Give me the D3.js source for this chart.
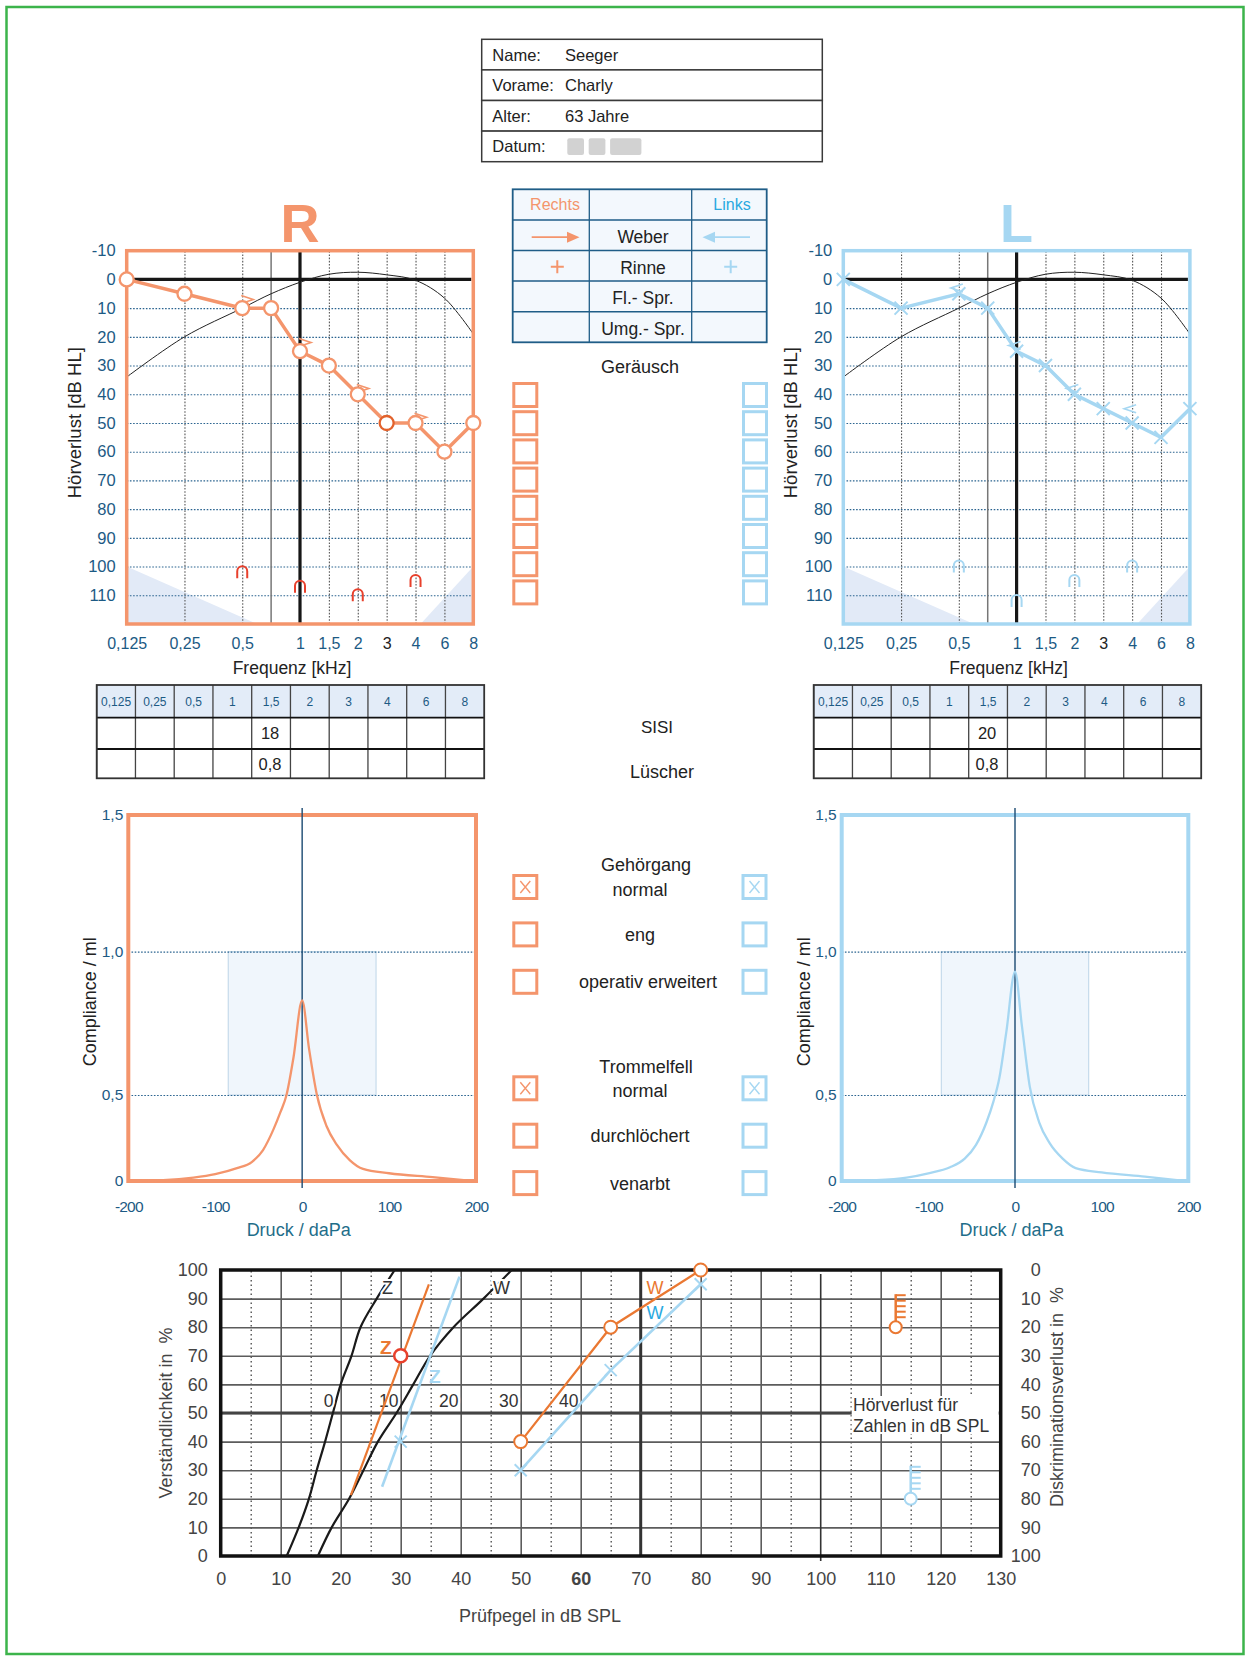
<!DOCTYPE html>
<html>
<head>
<meta charset="utf-8">
<script src="https://cdn.jsdelivr.net/npm/d3@7"></script>
<style>
  body { margin: 0; background: #fff; }
  svg { display: block; }
</style>
</head>
<body>
<svg id="chart" width="1247" height="1657"></svg>
<script>
const FONT = '"Liberation Sans", Arial, sans-serif';
const ORANGE = '#f4956c', ORANGE_DARK = '#e2622c', BLUE_L = '#a6d7f2', CYAN = '#2aa9e0';
const NAVY = '#1c5a84', RED = '#e8402c', SP_OR = '#ea7832', INK = '#222';

// patient header
const infoLabels = ['Name:', 'Vorame:', 'Alter:', 'Datum:'];
const infoValues = ['Seeger', 'Charly', '63 Jahre', ''];
const datumBlocks = [16.7, 16.7, 31.3];

// tuning fork / speech rows
const testRows = ['', 'Weber', 'Rinne', 'Fl.- Spr.', 'Umg.- Spr.'];

// audiogram
const freqGrid = [0.125, 0.177, 0.25, 0.354, 0.5, 0.75, 1, 1.5, 2, 3, 4, 6, 8];
const freqTicks = [0.125, 0.25, 0.5, 1, 1.5, 2, 3, 4, 6, 8];
const freqTickLabels = ['0,125', '0,25', '0,5', '1', '1,5', '2', '3', '4', '6', '8'];
const airFreqs = [0.125, 0.25, 0.5, 0.75, 1, 1.5, 2, 3, 4, 6, 8];
const rightAir = [0, 5, 10, 10, 25, 30, 40, 50, 50, 60, 50];
const leftAir = [0, 10, 5, 10, 25, 30, 40, 45, 50, 55, 45];
const normCurve = [34, 20, 10, 5, 1, -1.8, -2.5, -1.6, 0.3, 6.5, 19];
const boneFreqs = [0.5, 1, 2, 4];
const rightBone = [7, 22, 38, 48];
const leftBone = [3, 23, 38, 45];
const rightUcl = [102, 107, 110, 105];
const leftUcl = [100, 112, 105, 100];
const shadeLow = [[0.125, 100], [0.125, 120], [0.63, 120]];
const shadeHigh = [[4.35, 120], [8, 120], [8, 100]];
const dbTicks = d3.range(-10, 120, 10);

// SISI / Lüscher
const sisiRight = ['', '', '', '', '18', '', '', '', '', ''];
const luescherRight = ['', '', '', '', '0,8', '', '', '', '', ''];
const sisiLeft = ['', '', '', '', '20', '', '', '', '', ''];
const luescherLeft = ['', '', '', '', '0,8', '', '', '', '', ''];

// noise checkboxes
const noiseRight = [0, 0, 0, 0, 0, 0, 0, 0];
const noiseLeft = [0, 0, 0, 0, 0, 0, 0, 0];

// ear canal / ear drum
const canalOptions = ['normal', 'eng', 'operativ erweitert'];
const canalRight = [1, 0, 0], canalLeft = [1, 0, 0];
const drumOptions = ['normal', 'durchlöchert', 'venarbt'];
const drumRight = [1, 0, 0], drumLeft = [1, 0, 0];

// tympanogram
const tympPressure = [-200, -160, -125, -100, -75, -58, -45, -33, -25, -18, -10, 0, 8, 17, 28, 40, 55, 70, 100, 150, 195];
const tympRight = [0, 0.005, 0.02, 0.04, 0.075, 0.11, 0.18, 0.3, 0.4, 0.5, 0.63, 0.83, 0.66, 0.5, 0.32, 0.21, 0.12, 0.07, 0.045, 0.022, 0];
const tympLeft = [0, 0.005, 0.02, 0.045, 0.08, 0.13, 0.21, 0.34, 0.46, 0.56, 0.72, 0.93, 0.74, 0.53, 0.34, 0.22, 0.13, 0.075, 0.05, 0.025, 0];
const tympNormPressure = [-85, 85];
const tympNormCompliance = [0.5, 1.0];

// speech audiogram
const scoreSteps = [0, 10, 20, 30, 40, 50, 60, 70, 80, 90, 100];
const zNormLevel = [11, 13, 14.7, 16, 17.4, 18.7, 20, 21.8, 23.3, 26, 29];
const wNormLevel = [16.2, 18.5, 21.4, 23.8, 26.2, 29.3, 32.1, 34.9, 38.8, 43.8, 48.5];
const rightZLevel = [21.7, 34.7], rightZScore = [21.3, 95];
const leftZLevel = [26.9, 39.8], leftZScore = [24.2, 97.7];
const rightZPoint = [30, 70], leftZPoint = [30, 40];
const rightWLevel = [50, 65, 80], rightWScore = [40, 80, 100];
const leftWLevel = [50, 65, 80], leftWScore = [30, 65, 95];
const rightDiscr = [112.5, 20], leftDiscr = [115, 80];   // level, discrimination loss %
const numberLoss = [0, 10, 20, 30, 40];
const numberLossZero = 18;

const plain = d => String(d).replace('.', ',');
const svg = d3.select('#chart').attr('font-family', FONT);

// page frame
svg.append('rect').attr('x', 6.5).attr('y', 7).attr('width', 1237).attr('height', 1647)
  .attr('fill', '#fff').attr('stroke', '#3cb44b').attr('stroke-width', 2.5);

// ---------- patient header ----------
const infoY = d3.scaleBand().domain(d3.range(infoLabels.length)).range([39.3, 161.7]);
const info = svg.append('g');
info.selectAll('rect').data(infoLabels).join('rect')
  .attr('x', 481.7).attr('y', (d, i) => infoY(i)).attr('width', 340.6).attr('height', infoY.bandwidth())
  .attr('fill', '#fff').attr('stroke', '#3a3a3a').attr('stroke-width', 1.5);
info.selectAll('text.lab').data(infoLabels).join('text').attr('class', 'lab')
  .attr('x', 492.3).attr('y', (d, i) => infoY(i) + infoY.bandwidth() / 2 + 6)
  .attr('font-size', 16.5).attr('fill', INK).text(d => d);
info.selectAll('text.val').data(infoValues).join('text').attr('class', 'val')
  .attr('x', 565).attr('y', (d, i) => infoY(i) + infoY.bandwidth() / 2 + 6)
  .attr('font-size', 16.5).attr('fill', INK).text(d => d);
let bx = 567.3;
datumBlocks.forEach(w => {
  info.append('rect').attr('x', bx).attr('y', 138.3).attr('width', w).attr('height', 16.7)
    .attr('rx', 2).attr('fill', '#d2d2d2');
  bx += w + 4.7;
});

// ---------- Weber / Rinne table ----------
const tCols = [512.7, 589.3, 691.7, 766.7];
const tY = d3.scaleBand().domain(d3.range(testRows.length)).range([189.3, 342.3]);
const tt = svg.append('g');
tt.append('rect').attr('x', tCols[0]).attr('y', 189.3).attr('width', tCols[3] - tCols[0]).attr('height', 153)
  .attr('fill', '#f3f8fd').attr('stroke', '#1f5d87').attr('stroke-width', 1.8);
tCols.slice(1, 3).forEach(c => tt.append('line').attr('x1', c).attr('x2', c).attr('y1', 189.3).attr('y2', 342.3)
  .attr('stroke', '#1f5d87').attr('stroke-width', 1.3));
testRows.slice(1).forEach((r, i) => tt.append('line').attr('x1', tCols[0]).attr('x2', tCols[3])
  .attr('y1', tY(i + 1)).attr('y2', tY(i + 1)).attr('stroke', '#1f5d87').attr('stroke-width', 1.5));
tt.selectAll('text.row').data(testRows).join('text').attr('class', 'row')
  .attr('x', 643).attr('y', (d, i) => tY(i) + tY.bandwidth() / 2 + 8)
  .attr('text-anchor', 'middle').attr('font-size', 17.5).attr('fill', INK).text(d => d);
tt.append('text').attr('x', 555).attr('y', tY(0) + 20.5).attr('text-anchor', 'middle')
  .attr('font-size', 16).attr('fill', ORANGE).text('Rechts');
tt.append('text').attr('x', 732).attr('y', tY(0) + 20.5).attr('text-anchor', 'middle')
  .attr('font-size', 16).attr('fill', CYAN).text('Links');
// Weber arrows
const wy = tY(1) + tY.bandwidth() / 2 + 2;
tt.append('line').attr('x1', 531.7).attr('x2', 568).attr('y1', wy).attr('y2', wy).attr('stroke', ORANGE).attr('stroke-width', 1.8);
tt.append('path').attr('d', `M567,${wy - 5.5}L579.5,${wy}L567,${wy + 5.5}Z`).attr('fill', ORANGE);
tt.append('line').attr('x1', 714).attr('x2', 750).attr('y1', wy).attr('y2', wy).attr('stroke', BLUE_L).attr('stroke-width', 1.8);
tt.append('path').attr('d', `M715,${wy - 5.5}L702.5,${wy}L715,${wy + 5.5}Z`).attr('fill', BLUE_L);
// Rinne plus
const ry = tY(2) + tY.bandwidth() / 2 + 1;
[[557.3, ORANGE], [730.7, BLUE_L]].forEach(([cx, c]) => {
  tt.append('path').attr('d', `M${cx - 6.5},${ry}H${cx + 6.5}M${cx},${ry - 6.5}V${ry + 6.5}`)
    .attr('stroke', c).attr('stroke-width', 2);
});

// ---------- checkbox helper ----------
function checkbox(cx, cy, col, checked) {
  svg.append('rect').attr('x', cx - 11.5).attr('y', cy - 11.5).attr('width', 23).attr('height', 23)
    .attr('fill', '#fff').attr('stroke', col).attr('stroke-width', 3);
  if (checked) {
    svg.append('path').attr('d', `M${cx - 5},${cy - 6}L${cx + 5},${cy + 6}M${cx + 5},${cy - 6}L${cx - 5},${cy + 6}`)
      .attr('stroke', col).attr('stroke-width', 1.4);
  }
}

// Geräusch
svg.append('text').attr('x', 640).attr('y', 373).attr('text-anchor', 'middle')
  .attr('font-size', 18).attr('fill', INK).text('Geräusch');
const noiseY = d3.scaleLinear().domain([0, 7]).range([395, 592.4]);
noiseRight.forEach((v, i) => checkbox(525.3, noiseY(i), ORANGE, v));
noiseLeft.forEach((v, i) => checkbox(755, noiseY(i), BLUE_L, v));

// ---------- audiogram ----------
function audiogram(o) {
  const top = 250.7, bottom = 624, w = 346.6, left = o.left;
  const pt = d3.scalePoint().domain(freqGrid).range([left, left + w]);
  const x = d3.scaleLinear().domain(freqGrid).range(freqGrid.map(f => pt(f)));
  const y = d3.scaleLinear().domain([-10, 120]).range([top, bottom]);
  const g = svg.append('g');
  g.append('rect').attr('x', left).attr('y', top).attr('width', w).attr('height', bottom - top).attr('fill', '#fff');
  const poly = d3.line().x(d => x(d[0])).y(d => y(d[1]));
  [shadeLow, shadeHigh].forEach(s => g.append('path').attr('d', poly(s) + 'Z').attr('fill', '#e2eaf7'));

  g.append('g').attr('transform', `translate(${left},0)`)
    .call(d3.axisLeft(y).tickValues(d3.range(10, 120, 10)).tickSize(-w).tickFormat(''))
    .call(a => a.select('.domain').remove())
    .call(a => a.selectAll('line').attr('stroke', '#2b6490').attr('stroke-width', 1.1).attr('stroke-dasharray', '1.6,1.6'));
  g.append('g').attr('transform', `translate(0,${bottom})`)
    .call(d3.axisBottom(x).tickValues(freqTicks.filter(f => f > 0.125 && f < 8 && f !== 1)).tickSize(-(bottom - top)).tickFormat(''))
    .call(a => a.select('.domain').remove())
    .call(a => a.selectAll('line').attr('stroke', '#555').attr('stroke-width', 1.1).attr('stroke-dasharray', '1.6,1.6'));
  g.append('line').attr('x1', x(0.75)).attr('x2', x(0.75)).attr('y1', top).attr('y2', bottom)
    .attr('stroke', '#777').attr('stroke-width', 1.5);
  g.append('line').attr('x1', x(1)).attr('x2', x(1)).attr('y1', top).attr('y2', bottom)
    .attr('stroke', '#161616').attr('stroke-width', 3.2);
  g.append('line').attr('x1', left).attr('x2', left + w - 2).attr('y1', y(0)).attr('y2', y(0))
    .attr('stroke', '#161616').attr('stroke-width', 3.2);
  g.append('path')
    .attr('d', d3.line().curve(d3.curveCatmullRom.alpha(0.5)).x((d, i) => x(airFreqs[i])).y(d => y(d))(normCurve))
    .attr('fill', 'none').attr('stroke', '#222').attr('stroke-width', 1);
  g.append('rect').attr('x', left).attr('y', top).attr('width', w).attr('height', bottom - top)
    .attr('fill', 'none').attr('stroke', o.col).attr('stroke-width', 3.5);

  // axes text
  g.append('g').attr('transform', `translate(${left},0)`)
    .call(d3.axisLeft(y).tickValues(dbTicks).tickSize(0).tickPadding(11).tickFormat(plain))
    .call(a => { a.select('.domain').remove(); a.attr('font-family', FONT).attr('font-size', 16.5); a.selectAll('text').attr('fill', NAVY); });
  g.append('g').attr('transform', `translate(0,${bottom})`)
    .call(d3.axisBottom(x).tickValues(freqTicks).tickSize(0).tickPadding(14).tickFormat((d, i) => freqTickLabels[i]))
    .call(a => { a.select('.domain').remove(); a.attr('font-family', FONT).attr('font-size', 16); a.selectAll('text').attr('fill', d => d === 3 ? '#222' : NAVY); });
  g.append('text').attr('x', left + w / 2 - 8).attr('y', 674).attr('text-anchor', 'middle')
    .attr('font-size', 17.5).attr('fill', INK).text('Frequenz [kHz]');
  g.append('text').attr('transform', `translate(${left - 46},${top + 172}) rotate(-90)`).attr('text-anchor', 'middle')
    .attr('font-size', 18.5).attr('fill', INK).text('Hörverlust [dB HL]');
  g.append('text').attr('x', x(1)).attr('y', 241.7).attr('text-anchor', 'middle')
    .attr('font-size', 54).attr('font-weight', 'bold').attr('fill', o.col).text(o.title);

  // ULL
  g.selectAll('path.ucl').data(o.ucl).join('path').attr('class', 'ucl')
    .attr('transform', (d, i) => `translate(${x(boneFreqs[i])},${y(d)})`)
    .attr('d', 'M-5,6V-1A5,5 0 0 1 5,-1V6').attr('fill', 'none').attr('stroke', o.uclCol).attr('stroke-width', 2);
  // bone conduction
  g.selectAll('path.bone').data(o.bone).join('path').attr('class', 'bone')
    .attr('transform', (d, i) => `translate(${x(boneFreqs[i]) + o.boneDx},${y(d)})`)
    .attr('d', o.title === 'R' ? 'M-6,-4L6,0L-6,4' : 'M6,-4L-6,0L6,4')
    .attr('fill', 'none').attr('stroke', o.col).attr('stroke-width', 1.6);
  // air conduction
  g.append('path').attr('d', d3.line().x((d, i) => x(airFreqs[i])).y(d => y(d))(o.air))
    .attr('fill', 'none').attr('stroke', o.col).attr('stroke-width', 3.5);
  if (o.title === 'R') {
    g.selectAll('circle.air').data(o.air).join('circle').attr('class', 'air')
      .attr('cx', (d, i) => x(airFreqs[i])).attr('cy', d => y(d)).attr('r', 7)
      .attr('fill', '#fff').attr('stroke', (d, i) => airFreqs[i] === 3 ? ORANGE_DARK : o.col).attr('stroke-width', 2.3);
  } else {
    g.selectAll('path.air').data(o.air).join('path').attr('class', 'air')
      .attr('transform', (d, i) => `translate(${x(airFreqs[i])},${y(d)})`)
      .attr('d', 'M-6.5,-6.5L6.5,6.5M6.5,-6.5L-6.5,6.5').attr('stroke', o.col).attr('stroke-width', 2);
  }
}
audiogram({ left: 126.7, col: ORANGE, uclCol: RED, title: 'R', air: rightAir, bone: rightBone, ucl: rightUcl, boneDx: 5 });
audiogram({ left: 843.3, col: BLUE_L, uclCol: BLUE_L, title: 'L', air: leftAir, bone: leftBone, ucl: leftUcl, boneDx: -2 });

// ---------- SISI tables ----------
function sisiTable(left, row1, row2) {
  const x = d3.scaleBand().domain(d3.range(freqTickLabels.length)).range([left, left + 387.5]);
  const rows = [685, 717.7, 749, 778.3];
  const g = svg.append('g');
  g.append('rect').attr('x', left).attr('y', rows[0]).attr('width', 387.5).attr('height', rows[1] - rows[0]).attr('fill', '#e3ecf8');
  freqTickLabels.forEach((d, i) => g.append('line').attr('x1', x(i)).attr('x2', x(i)).attr('y1', rows[0]).attr('y2', rows[3])
    .attr('stroke', '#444').attr('stroke-width', 1.3));
  rows.slice(1, 3).forEach(r => g.append('line').attr('x1', left).attr('x2', left + 387.5).attr('y1', r).attr('y2', r)
    .attr('stroke', '#111').attr('stroke-width', 1.8));
  g.append('rect').attr('x', left).attr('y', rows[0]).attr('width', 387.5).attr('height', rows[3] - rows[0])
    .attr('fill', 'none').attr('stroke', '#333').attr('stroke-width', 1.8);
  g.selectAll('text.h').data(freqTickLabels).join('text').attr('class', 'h')
    .attr('x', (d, i) => x(i) + x.bandwidth() / 2).attr('y', 705.5).attr('text-anchor', 'middle')
    .attr('font-size', 12).attr('fill', NAVY).text(d => d);
  [row1, row2].forEach((r, k) => g.selectAll('text.v' + k).data(r).join('text').attr('class', 'v' + k)
    .attr('x', (d, i) => x(i) + x.bandwidth() / 2 - 1).attr('y', [739, 769.5][k]).attr('text-anchor', 'middle')
    .attr('font-size', 16.5).attr('fill', INK).text(d => d));
}
sisiTable(96.7, sisiRight, luescherRight);
sisiTable(813.7, sisiLeft, luescherLeft);
svg.append('text').attr('x', 657).attr('y', 733).attr('text-anchor', 'middle').attr('font-size', 17).attr('fill', INK).text('SISI');
svg.append('text').attr('x', 662).attr('y', 777.5).attr('text-anchor', 'middle').attr('font-size', 18).attr('fill', INK).text('Lüscher');

// ---------- tympanograms ----------
function tymp(left, w, col, values) {
  const x = d3.scaleLinear().domain([-200, 200]).range([left, left + w]);
  const y = d3.scaleLinear().domain([0, 0.5, 1, 1.5]).range([1181, 1095, 951.7, 815]);
  const g = svg.append('g');
  g.append('rect').attr('x', x(tympNormPressure[0])).attr('y', y(tympNormCompliance[1]))
    .attr('width', x(tympNormPressure[1]) - x(tympNormPressure[0]))
    .attr('height', y(tympNormCompliance[0]) - y(tympNormCompliance[1]))
    .attr('fill', '#f0f6fc').attr('stroke', '#c6dbeb').attr('stroke-width', 1.2);
  g.append('g').attr('transform', `translate(${left},0)`)
    .call(d3.axisLeft(y).tickValues(tympNormCompliance).tickSize(-w).tickFormat(''))
    .call(a => a.select('.domain').remove())
    .call(a => a.selectAll('line').attr('stroke', '#2b6490').attr('stroke-width', 1.2).attr('stroke-dasharray', '1.6,1.6'));
  g.append('rect').attr('x', left).attr('y', y(1.5)).attr('width', w).attr('height', y(0) - y(1.5))
    .attr('fill', 'none').attr('stroke', col).attr('stroke-width', 4);
  g.append('line').attr('x1', x(0)).attr('x2', x(0)).attr('y1', 808).attr('y2', 1188)
    .attr('stroke', '#1a4a72').attr('stroke-width', 1.4);
  g.append('path').attr('d', d3.line().curve(d3.curveMonotoneX).x((d, i) => x(tympPressure[i])).y(d => y(d))(values))
    .attr('fill', 'none').attr('stroke', col).attr('stroke-width', 2.3);
  g.append('g').attr('transform', `translate(${left - 5},0)`)
    .call(d3.axisLeft(y).tickValues([0, 0.5, 1, 1.5]).tickSize(0).tickPadding(0)
      .tickFormat(d => d === 0 ? '0' : d3.format('.1f')(d).replace('.', ',')))
    .call(a => { a.select('.domain').remove(); a.attr('font-family', FONT).attr('font-size', 15.5); a.selectAll('text').attr('fill', NAVY); });
  g.append('g').attr('transform', `translate(0,1181)`)
    .call(d3.axisBottom(x).tickValues([-200, -100, 0, 100, 200]).tickSize(0).tickPadding(20).tickFormat(plain))
    .call(a => { a.select('.domain').remove(); a.attr('font-family', FONT).attr('font-size', 15.5); a.selectAll('text').attr('fill', NAVY).attr('letter-spacing', -0.8); });
  g.append('text').attr('transform', `translate(${left - 32},1001.7) rotate(-90)`).attr('text-anchor', 'middle')
    .attr('font-size', 18).attr('fill', INK).text('Compliance / ml');
  g.append('text').attr('x', x(0) - 3.5).attr('y', 1236).attr('text-anchor', 'middle')
    .attr('font-size', 18).attr('fill', '#1f6e8a').text('Druck / daPa');
}
tymp(128.3, 347.7, ORANGE, tympRight);
tymp(841.7, 346.6, BLUE_L, tympLeft);

// Gehörgang / Trommelfell
function optionGroup(title, titleY, opts, firstY, right, left) {
  svg.append('text').attr('x', 646).attr('y', titleY + 6.5).attr('text-anchor', 'middle')
    .attr('font-size', 18).attr('fill', INK).text(title);
  const yy = d3.scaleLinear().domain([0, 1]).range([firstY, firstY + 47.4]);
  opts.forEach((t, i) => {
    svg.append('text').attr('x', t.length > 12 ? 648 : 640).attr('y', yy(i) + 6.5 + (i === 0 ? 2 : 0))
      .attr('text-anchor', 'middle').attr('font-size', 18).attr('fill', INK).text(t);
    checkbox(525.3, yy(i), ORANGE, right[i]);
    checkbox(754.5, yy(i), BLUE_L, left[i]);
  });
}
optionGroup('Gehörgang', 864, canalOptions, 887, canalRight, canalLeft);
optionGroup('Trommelfell', 1066, drumOptions, 1088.3, drumRight, drumLeft);

// ---------- speech audiogram ----------
{
  const L = 220.7, R = 1000.7, T = 1270, B = 1556;
  const x = d3.scaleLinear().domain([0, 130]).range([L, R]);
  const y = d3.scaleLinear().domain([0, 100]).range([B, T]);
  const yLoss = d3.scaleLinear().domain([0, 100]).range([T, B]);
  const g = svg.append('g');
  g.append('rect').attr('x', L).attr('y', T).attr('width', R - L).attr('height', B - T).attr('fill', '#fff');
  g.append('g').attr('transform', `translate(0,${B})`)
    .call(d3.axisBottom(x).tickValues(d3.range(5, 130, 10)).tickSize(-(B - T)).tickFormat(''))
    .call(a => a.select('.domain').remove())
    .call(a => a.selectAll('line').attr('stroke', '#444').attr('stroke-width', 1.3).attr('stroke-dasharray', '1.5,3'));
  g.append('g').attr('transform', `translate(0,${B})`)
    .call(d3.axisBottom(x).tickValues(d3.range(10, 130, 10).filter(v => v !== 70 && v !== 100)).tickSize(-(B - T)).tickFormat(''))
    .call(a => a.select('.domain').remove())
    .call(a => a.selectAll('line').attr('stroke', '#5c5c5c').attr('stroke-width', 1.6));
  g.append('g').attr('transform', `translate(${L},0)`)
    .call(d3.axisLeft(y).tickValues(d3.range(10, 100, 10)).tickSize(-(R - L)).tickFormat(''))
    .call(a => a.select('.domain').remove())
    .call(a => a.selectAll('line').attr('stroke', '#5c5c5c').attr('stroke-width', 1.6));
  g.append('line').attr('x1', x(70)).attr('x2', x(70)).attr('y1', T).attr('y2', B).attr('stroke', '#333').attr('stroke-width', 3);
  g.append('line').attr('x1', x(100)).attr('x2', x(100)).attr('y1', y(98.6)).attr('y2', B + 5).attr('stroke', '#333').attr('stroke-width', 1.6);
  g.append('line').attr('x1', L).attr('x2', R).attr('y1', y(50)).attr('y2', y(50)).attr('stroke', '#444').attr('stroke-width', 3);
  // label box
  g.append('rect').attr('x', x(105) + 1).attr('y', 1396).attr('width', 147).attr('height', 38).attr('fill', '#fff');
  g.append('text').attr('x', 853).attr('y', 1411).attr('font-size', 17.5).attr('fill', '#333').text('Hörverlust für');
  g.append('text').attr('x', 853).attr('y', 1431.5).attr('font-size', 17.5).attr('fill', '#333').text('Zahlen in dB SPL');
  g.append('rect').attr('x', L).attr('y', T).attr('width', R - L).attr('height', B - T)
    .attr('fill', 'none').attr('stroke', '#111').attr('stroke-width', 3.5);

  const line = d3.line().x(d => x(d[0])).y(d => y(d[1]));
  const norm = d3.line().curve(d3.curveCatmullRom.alpha(0.5)).x(d => x(d[0])).y(d => y(d[1]));
  g.append('path').attr('d', norm(zNormLevel.map((v, i) => [v, scoreSteps[i]]))).attr('fill', 'none').attr('stroke', '#1a1a1a').attr('stroke-width', 2.2);
  g.append('path').attr('d', norm(wNormLevel.map((v, i) => [v, scoreSteps[i]]))).attr('fill', 'none').attr('stroke', '#1a1a1a').attr('stroke-width', 2.2);

  const halo = sel => sel.attr('stroke', '#fff').attr('stroke-width', 4).attr('paint-order', 'stroke');
  g.append('text').attr('x', x(27.8)).attr('y', y(94) + 6.5).attr('text-anchor', 'middle').attr('font-size', 18).attr('fill', '#333').text('Z').call(halo);
  g.append('text').attr('x', x(46.8)).attr('y', y(94) + 6.5).attr('text-anchor', 'middle').attr('font-size', 18).attr('fill', '#333').text('W').call(halo);
  g.selectAll('text.nl').data(numberLoss).join('text').attr('class', 'nl')
    .attr('x', d => x(d + numberLossZero)).attr('y', y(54.2) + 6.5).attr('text-anchor', 'middle')
    .attr('font-size', 17.5).attr('fill', '#333').text(d => d).call(halo);

  // right ear (orange) and left ear (blue)
  g.append('path').attr('d', line(rightZLevel.map((v, i) => [v, rightZScore[i]]))).attr('fill', 'none').attr('stroke', SP_OR).attr('stroke-width', 2.2);
  g.append('path').attr('d', line(leftZLevel.map((v, i) => [v, leftZScore[i]]))).attr('fill', 'none').attr('stroke', BLUE_L).attr('stroke-width', 2.6);
  g.append('path').attr('d', line(rightWLevel.map((v, i) => [v, rightWScore[i]]))).attr('fill', 'none').attr('stroke', SP_OR).attr('stroke-width', 2.2);
  g.append('path').attr('d', line(leftWLevel.map((v, i) => [v, leftWScore[i]]))).attr('fill', 'none').attr('stroke', BLUE_L).attr('stroke-width', 2.6);

  const cross = (lv, sc) => g.append('path').attr('transform', `translate(${x(lv)},${y(sc)})`)
    .attr('d', 'M-6,-6L6,6M6,-6L-6,6').attr('stroke', BLUE_L).attr('stroke-width', 2);
  cross(leftZPoint[0], leftZPoint[1]);
  leftWLevel.forEach((v, i) => cross(v, leftWScore[i]));
  rightWLevel.forEach((v, i) => g.append('circle').attr('cx', x(v)).attr('cy', y(rightWScore[i])).attr('r', 6.5)
    .attr('fill', '#fff').attr('stroke', SP_OR).attr('stroke-width', 2));
  g.append('circle').attr('cx', x(rightZPoint[0])).attr('cy', y(rightZPoint[1])).attr('r', 6.5)
    .attr('fill', '#fff').attr('stroke', RED).attr('stroke-width', 2.5);

  g.append('text').attr('x', x(27.5)).attr('y', y(73) + 7).attr('text-anchor', 'middle').attr('font-size', 19).attr('font-weight', 'bold').attr('fill', SP_OR).text('Z');
  g.append('text').attr('x', x(35.7)).attr('y', y(63) + 7).attr('text-anchor', 'middle').attr('font-size', 19).attr('font-weight', 'bold').attr('fill', BLUE_L).text('Z');
  g.append('text').attr('x', x(72.4)).attr('y', y(94) + 6.5).attr('text-anchor', 'middle').attr('font-size', 18).attr('fill', SP_OR).text('W');
  g.append('text').attr('x', x(72.4)).attr('y', y(85) + 6.5).attr('text-anchor', 'middle').attr('font-size', 18).attr('fill', CYAN).text('W');

  // discrimination loss markers
  [[rightDiscr, SP_OR], [leftDiscr, BLUE_L]].forEach(([d, c]) => {
    const cx = x(d[0]), cy = yLoss(d[1]);
    const m = g.append('g').attr('stroke', c).attr('stroke-width', 2.5).attr('fill', 'none');
    m.append('line').attr('x1', cx).attr('x2', cx).attr('y1', cy - 6).attr('y2', cy - 33);
    [0, 1, 2, 3, 4].forEach(k => m.append('line').attr('x1', cx).attr('x2', cx + 10)
      .attr('y1', cy - 32 + k * 5.5).attr('y2', cy - 32 + k * 5.5).attr('stroke-width', 2));
    m.append('circle').attr('cx', cx).attr('cy', cy).attr('r', 6).attr('fill', '#fff').attr('stroke-width', 2);
  });

  // axes
  g.append('g').attr('transform', `translate(${L},0)`)
    .call(d3.axisLeft(y).tickValues(scoreSteps).tickSize(0).tickPadding(13))
    .call(a => { a.select('.domain').remove(); a.attr('font-family', FONT).attr('font-size', 18); a.selectAll('text').attr('fill', '#444'); });
  g.append('g').attr('transform', `translate(0,${B})`)
    .call(d3.axisBottom(x).tickValues(d3.range(0, 140, 10)).tickSize(0).tickPadding(16))
    .call(a => { a.select('.domain').remove(); a.attr('font-family', FONT).attr('font-size', 18);
      a.selectAll('text').attr('fill', '#444').attr('font-weight', d => d === 60 ? 'bold' : null); });
  g.append('g').attr('transform', `translate(${R + 40},0)`)
    .call(d3.axisRight(yLoss).tickValues(scoreSteps).tickSize(0).tickPadding(0))
    .call(a => { a.select('.domain').remove(); a.attr('font-family', FONT).attr('font-size', 18);
      a.selectAll('text').attr('fill', '#444').attr('text-anchor', 'end'); });
  g.append('text').attr('transform', `translate(172,1413) rotate(-90)`).attr('text-anchor', 'middle')
    .attr('font-size', 18).attr('fill', '#444').attr('xml:space', 'preserve').text('Verständlichkeit in  %');
  g.append('text').attr('transform', `translate(1063,1397) rotate(-90)`).attr('text-anchor', 'middle')
    .attr('font-size', 18).attr('fill', '#444').attr('xml:space', 'preserve').text('Diskriminationsverlust in  %');
  g.append('text').attr('x', 540).attr('y', 1622).attr('text-anchor', 'middle')
    .attr('font-size', 18).attr('fill', '#444').text('Prüfpegel in dB SPL');
}
</script>
</body>
</html>
